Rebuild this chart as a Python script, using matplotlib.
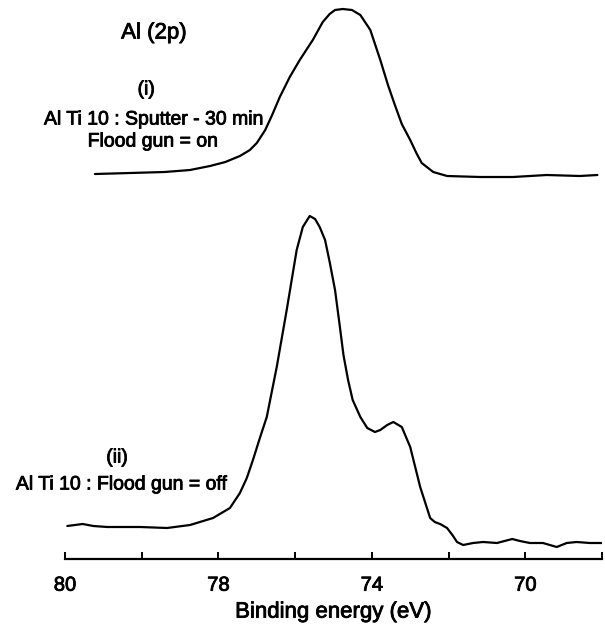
import matplotlib
matplotlib.use("Agg")
import matplotlib.pyplot as plt
import matplotlib.patheffects as pe

plt.rcParams['font.family'] = ['Liberation Sans', 'DejaVu Sans']

# x positions in axis tick units (tick 0 = "80", one unit per tick)
tick_pos = [0, 1, 2, 3, 4, 5, 6, 7]
tick_labels = ['80', '', '78', '', '74', '', '70', '']

# (i) Al Ti 10 : Sputter - 30 min, flood gun on (offset trace, arbitrary units)
x_i = [0.39, 0.85, 1.30, 1.63, 1.89, 2.09, 2.28, 2.41, 2.50, 2.61, 2.70, 2.80,
       2.93, 3.06, 3.23, 3.36, 3.45, 3.52, 3.62, 3.74, 3.85, 3.98, 4.11, 4.21,
       4.30, 4.39, 4.50, 4.58, 4.65, 4.80, 4.98, 5.41, 5.84, 6.28, 6.71, 6.94]
y_i = [385, 386, 387, 389, 393, 397, 403, 409, 416, 429, 444, 462,
       482, 499, 519, 537, 545, 549, 550, 549, 544, 529, 499, 474,
       454, 435, 419, 406, 396, 387, 383, 382, 382, 384, 383, 384]

# (ii) Al Ti 10 : Flood gun off
x_ii = [0.03, 0.23, 0.37, 0.55, 0.98, 1.33, 1.63, 1.93, 2.15, 2.28, 2.37, 2.45,
        2.54, 2.63, 2.76, 2.89, 3.02, 3.10, 3.19, 3.26, 3.32, 3.39, 3.45, 3.52,
        3.58, 3.63, 3.69, 3.75, 3.85, 3.94, 4.04, 4.11, 4.20, 4.28, 4.39, 4.50,
        4.63, 4.76, 4.82, 4.89, 4.98, 5.05, 5.11, 5.19, 5.32, 5.45, 5.63, 5.83,
        5.93, 6.06, 6.23, 6.41, 6.54, 6.67, 6.84, 7.00]
y_ii = [33, 35, 33, 32, 32, 31, 34, 41, 51, 66, 81, 99,
        121, 142, 192, 249, 309, 332, 343, 340, 332, 319, 297, 269,
        234, 204, 179, 159, 142, 131, 127, 129, 134, 137, 132, 112,
        72, 41, 37, 35, 31, 24, 17, 14, 16, 17, 16, 20,
        18, 16, 16, 12, 16, 17, 16, 16]

thick = [pe.withStroke(linewidth=0.6, foreground='black')]

fig = plt.figure(figsize=(6.05, 6.29), dpi=100)
ax = fig.add_axes([65/605, 70/629, 537/605, 559/629])

ax.plot(x_i, y_i, color='black', lw=1.6, solid_capstyle='round', solid_joinstyle='round')
ax.plot(x_ii, y_ii, color='black', lw=1.6, solid_capstyle='round', solid_joinstyle='round')

ax.set_xlim(0, 7)
ax.set_ylim(0, 559)
for s in ['left', 'right', 'top']:
    ax.spines[s].set_visible(False)
ax.spines['bottom'].set_linewidth(1.6)
ax.set_yticks([])
ax.set_xticks(tick_pos)
ax.set_xticklabels(tick_labels)
ax.tick_params(axis='x', direction='in', length=5, width=1.4, pad=12, labelsize=14.5)
for lbl in ax.get_xticklabels():
    lbl.set_path_effects(thick)
xl = ax.set_xlabel('Binding energy (eV)', fontsize=16, labelpad=5)
xl.set_path_effects(thick)

kw = dict(ha='center', va='center', color='black', clip_on=False, path_effects=thick)
ax.text(1.16, 526, 'Al (2p)', fontsize=16, **kw)
ax.text(1.06, 469, '(i)', fontsize=14, **kw)
ax.text(1.16, 439, 'Al Ti 10 : Sputter - 30 min', fontsize=14, **kw)
ax.text(1.15, 417, 'Flood gun = on', fontsize=14, **kw)
ax.text(0.68, 101, '(ii)', fontsize=14, **kw)
ax.text(0.74, 74, 'Al Ti 10 : Flood gun = off', fontsize=14, **kw)

fig.savefig('out.png', dpi=100)
